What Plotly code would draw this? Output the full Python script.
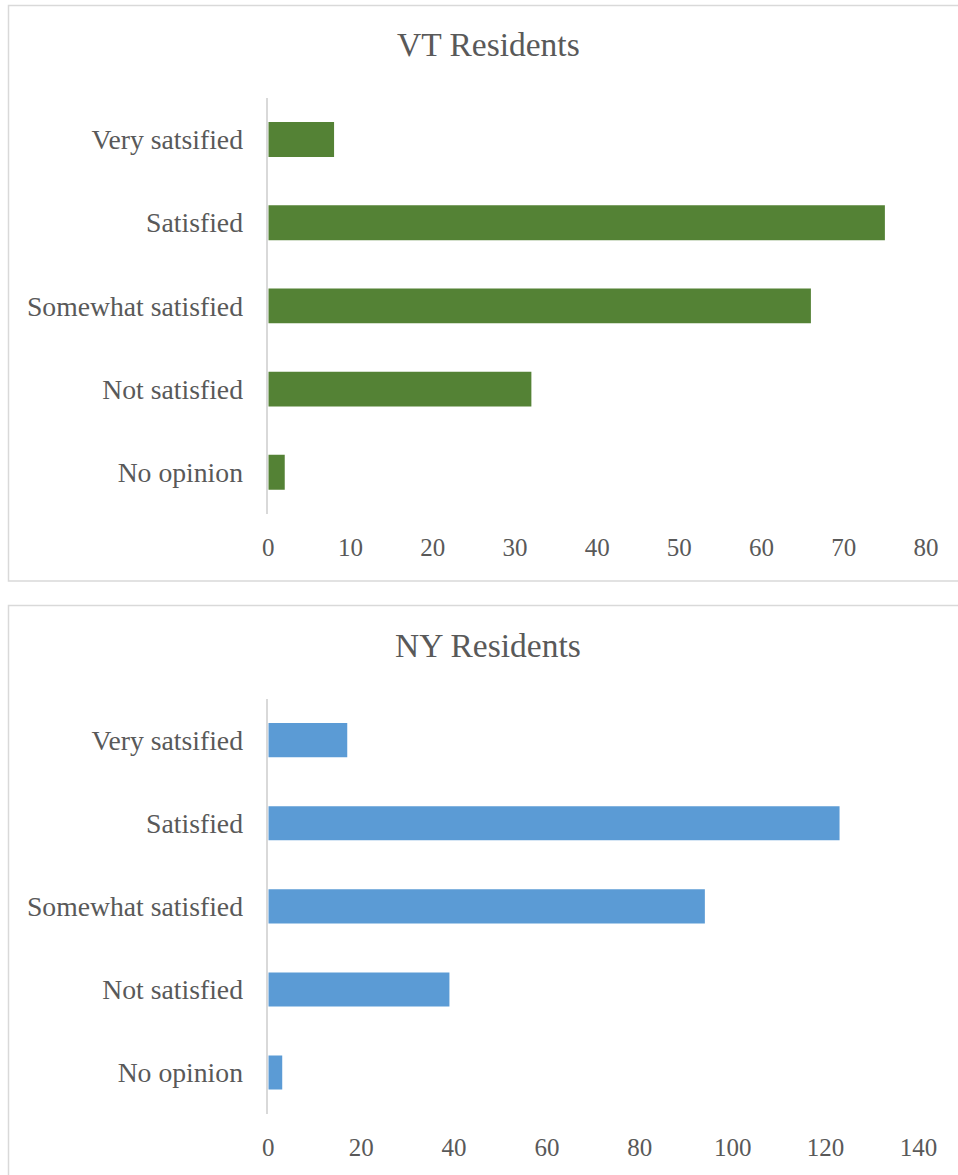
import plotly.graph_objects as go

# Survey categories, listed bottom-to-top as plotly stacks them
categories = ["No opinion", "Not satisfied", "Somewhat satisfied", "Satisfied", "Very satsified"]
vt_counts = [2, 32, 66, 75, 8]
ny_counts = [3, 39, 94, 123, 17]
vt_ticks = [0, 10, 20, 30, 40, 50, 60, 70, 80]
ny_ticks = [0, 20, 40, 60, 80, 100, 120, 140]

W, H = 958, 1175
FONT = "Liberation Serif, Times New Roman, serif"
TEXT = "#595959"
GRID = "#d9d9d9"


def px_x(p):
    return p / W


def px_y(p):
    return 1 - p / H


fig = go.Figure()

fig.add_trace(go.Bar(
    y=categories, x=vt_counts, orientation="h",
    marker=dict(color="#548235", line=dict(width=0)),
    width=0.42, xaxis="x", yaxis="y", hoverinfo="x+y",
))
fig.add_trace(go.Bar(
    y=categories, x=ny_counts, orientation="h",
    marker=dict(color="#5b9bd5", line=dict(width=0)),
    width=0.41, xaxis="x2", yaxis="y2", hoverinfo="x+y",
))

xaxis_common = dict(
    showgrid=False, zeroline=False, showline=False, automargin=False,
    ticks="", tickfont=dict(family=FONT, size=25, color=TEXT),
    ticklabelstandoff=16, fixedrange=True,
)
yaxis_common = dict(
    showgrid=False, zeroline=False, showline=True, linecolor=GRID, linewidth=1.5,
    automargin=False, ticks="", tickfont=dict(family=FONT, size=27.7, color=TEXT),
    ticklabelstandoff=18, fixedrange=True,
)

fig.update_layout(
    width=W, height=H, autosize=False,
    margin=dict(l=0, r=0, t=0, b=0, pad=0, autoexpand=False),
    paper_bgcolor="white", plot_bgcolor="white",
    showlegend=False, bargap=0.58,
    xaxis=dict(domain=[px_x(268.3), px_x(926)], range=[0, 80],
               tickvals=vt_ticks, anchor="y", **xaxis_common),
    yaxis=dict(domain=[px_y(513.9), px_y(97.9)], anchor="x", **yaxis_common),
    xaxis2=dict(domain=[px_x(268.3), px_x(918.5)], range=[0, 140],
                tickvals=ny_ticks, anchor="y2", **xaxis_common),
    yaxis2=dict(domain=[px_y(1114.1), px_y(698.6)], anchor="x2", **yaxis_common),
)

# Chart frames (right and lower edges run off the page)
fig.add_shape(type="rect", xref="paper", yref="paper",
              x0=px_x(8.5), x1=px_x(975), y0=px_y(581), y1=px_y(5.5),
              line=dict(color=GRID, width=1.5), fillcolor="rgba(0,0,0,0)", layer="below")
fig.add_shape(type="rect", xref="paper", yref="paper",
              x0=px_x(8.5), x1=px_x(975), y0=px_y(1190), y1=px_y(605.5),
              line=dict(color=GRID, width=1.5), fillcolor="rgba(0,0,0,0)", layer="below")

# Chart titles
for label, yc in (("VT Residents", 45), ("NY Residents", 646)):
    fig.add_annotation(
        text=label, xref="paper", yref="paper",
        x=px_x(488), y=px_y(yc), xanchor="center", yanchor="middle",
        showarrow=False, font=dict(family=FONT, size=33.5, color=TEXT),
    )

fig.write_html("out.html")
